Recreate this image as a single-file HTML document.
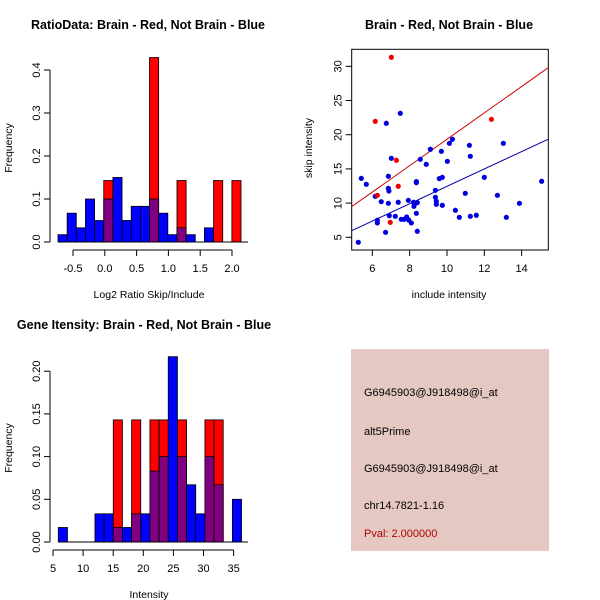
<!DOCTYPE html>
<html><head><meta charset="utf-8"><style>
body{margin:0;background:#fff;}
svg{display:block;font-family:"Liberation Sans",sans-serif;}
</style></head><body>
<svg id="chart" width="600" height="600" viewBox="0 0 600 600" xmlns="http://www.w3.org/2000/svg">
<rect width="600" height="600" fill="#fff"/>
<text x="148" y="29" font-size="12.5" font-weight="bold" text-anchor="middle">RatioData: Brain - Red, Not Brain - Blue</text>
<text x="449" y="29" font-size="12.5" font-weight="bold" text-anchor="middle">Brain - Red, Not Brain - Blue</text>
<text x="144" y="329" font-size="12.5" font-weight="bold" text-anchor="middle">Gene Itensity: Brain - Red, Not Brain - Blue</text>
<g id="p1"></g>
<g id="p2"></g>
<g id="p3"></g>
<g>
<rect x="351" y="349" width="198" height="202" fill="#e6c8c2"/>
<text x="364" y="396" font-size="11">G6945903@J918498@i_at</text>
<text x="364" y="435" font-size="11">alt5Prime</text>
<text x="364" y="472" font-size="11">G6945903@J918498@i_at</text>
<text x="364" y="509" font-size="11">chr14.7821-1.16</text>
<text x="364" y="537" font-size="11" fill="#b00000">Pval: 2.000000</text>
</g>
</svg>
<script>
// Ratio histogram data
const ratioBinStart = -0.736, ratioBinWidth = 0.1439;
const ratioBlue = [0.017,0.067,0.033,0.1,0.05,0.1,0.15,0.05,0.083,0.083,0.1,0.067,0.017,0.033,0.017,0,0.033,0,0,0];
const ratioRed  = [0,0,0,0,0,0.143,0,0,0,0,0.429,0,0,0.143,0,0,0,0.143,0,0.143];
const ratioXTicks = [-0.5,0.0,0.5,1.0,1.5,2.0];
const ratioXLabels = ["-0.5","0.0","0.5","1.0","1.5","2.0"];
const ratioYTicks = [0,0.1,0.2,0.3,0.4];
const ratioYLabels = ["0.0","0.1","0.2","0.3","0.4"];
// Intensity histogram data
const intBinStart = 5.88, intBinWidth = 1.522;
const intBlue = [0.017,0,0,0,0.033,0.033,0.017,0.017,0.033,0.033,0.083,0.1,0.217,0.1,0.067,0.033,0.1,0.067,0,0.05];
const intRed  = [0,0,0,0,0,0,0.143,0,0.143,0,0.143,0.143,0,0.143,0,0,0.143,0.143,0,0];
const intXTicks = [5,10,15,20,25,30,35];
const intXLabels = ["5","10","15","20","25","30","35"];
const intYTicks = [0,0.05,0.1,0.15,0.2];
const intYLabels = ["0.00","0.05","0.10","0.15","0.20"];
// Scatter data
const blueX = [5.25,5.41,5.68,6.16,6.27,6.27,6.48,6.71,6.75,6.86,6.86,6.86,6.89,6.91,7.02,7.23,7.39,7.50,7.55,7.70,7.84,7.95,8.09,7.93,8.21,8.23,8.29,8.36,8.36,8.36,8.41,8.41,8.57,8.89,9.11,9.38,9.38,9.43,9.43,9.59,9.70,9.75,9.75,10.02,10.13,10.29,10.45,10.66,10.98,11.20,11.25,11.25,11.57,12.00,12.70,13.02,13.18,13.88,15.07];
const blueY = [4.27,13.62,12.75,10.99,7.49,7.10,10.21,5.73,21.67,13.92,12.16,9.97,11.77,8.17,16.55,8.07,10.12,23.13,7.63,7.63,7.97,7.53,7.10,10.41,10.12,9.53,9.97,8.51,13.14,12.99,5.88,10.07,16.40,15.67,17.87,11.87,10.85,10.26,9.82,13.58,17.57,13.77,9.68,16.11,18.74,19.33,8.95,7.92,11.43,18.45,16.84,8.07,8.22,13.77,11.14,18.74,7.92,9.97,13.19];
const redX = [6.16,6.27,7.02,6.96,7.29,7.39,12.38];
const redY = [21.96,11.14,31.32,7.19,16.26,12.46,22.25];
const redFit = [0.03,1.93];   // intercept, slope
const blueFit = [-0.25,1.27];
const scXTicks = [6,8,10,12,14];
const scYTicks = [5,10,15,20,25,30];

const NS="http://www.w3.org/2000/svg";
function mk(parent,tag,attrs,text){const e=document.createElementNS(NS,tag);for(const k in attrs)e.setAttribute(k,attrs[k]);if(text!==undefined)e.textContent=text;parent.appendChild(e);return e;}

function hist(g,o){
  const sx=v=>o.x0+(v-o.d0)*o.kx, sy=v=>o.y0-v*o.ky;
  for(let i=0;i<o.blue.length;i++){
    const a=o.binStart+i*o.binW, b=a+o.binW, x1=sx(a), w=sx(b)-x1;
    const bv=o.blue[i], rv=o.red[i], m=Math.min(bv,rv), mx=Math.max(bv,rv);
    if(mx<=0) continue;
    const col = rv>bv? "#ff0000":"#0000ff";
    const r=mk(g,'rect',{x:x1,y:sy(mx),width:w,height:sy(0)-sy(mx),fill:col,stroke:"#000","stroke-width":0.8});
    
    
    if(m>0){
      const p=mk(g,'rect',{x:x1,y:sy(m),width:w,height:sy(0)-sy(m),fill:"#800080",stroke:"#000","stroke-width":0.8});
      
      
    }
  }
  mk(g,'line',{x1:sx(o.binStart),x2:o.baseEnd,y1:sy(0),y2:sy(0),stroke:"#000"});
  const ay=o.axisY;
  mk(g,'line',{x1:sx(o.xt[0]),x2:sx(o.xt[o.xt.length-1]),y1:ay,y2:ay,stroke:"#000"});
  o.xt.forEach((t,i)=>{mk(g,'line',{x1:sx(t),x2:sx(t),y1:ay,y2:ay+6,stroke:"#000"});
    const tx=mk(g,'text',{x:sx(t),y:ay+22,"font-size":11,"text-anchor":"middle"},o.xl[i]);
    
    });
  const ax=o.axisX;
  mk(g,'line',{x1:ax,x2:ax,y1:sy(o.yt[0]),y2:sy(o.yt[o.yt.length-1]),stroke:"#000"});
  o.yt.forEach((t,i)=>{mk(g,'line',{x1:ax,x2:ax-6,y1:sy(t),y2:sy(t),stroke:"#000"});
    const tx=mk(g,'text',{x:ax-10,y:sy(t),"font-size":11,"text-anchor":"middle",transform:`rotate(-90 ${ax-10} ${sy(t)})`},o.yl[i]);
    
    });
  const xt=mk(g,'text',{x:o.xlabX,y:o.xlabY,"font-size":10.5,"text-anchor":"middle"},o.xlab);
  
  
  const yt=mk(g,'text',{x:12,y:o.ylabY,"font-size":10.5,"text-anchor":"middle",transform:`rotate(-90 12 ${o.ylabY})`},"Frequency");
  
  
}

hist(document.getElementById('p1'),{x0:73,d0:-0.5,kx:63.6,y0:242,ky:430,binStart:ratioBinStart,binW:ratioBinWidth,
  blue:ratioBlue,red:ratioRed,baseEnd:248,axisY:250,axisX:50,xt:ratioXTicks,xl:ratioXLabels,yt:ratioYTicks,yl:ratioYLabels,
  xlab:"Log2 Ratio Skip/Include",xlabX:149,xlabY:298,ylabY:148});
hist(document.getElementById('p3'),{x0:53,d0:5,kx:6.02,y0:542,ky:854,binStart:intBinStart,binW:intBinWidth,
  blue:intBlue,red:intRed,baseEnd:248,axisY:550,axisX:50,xt:intXTicks,xl:intXLabels,yt:intYTicks,yl:intYLabels,
  xlab:"Intensity",xlabX:149,xlabY:598,ylabY:448});

(function(){
  const g=document.getElementById('p2');
  const L=351.7,R=548.3,T=49.3,B=250;
  const sx=v=>372.3+(v-6)*18.67, sy=v=>237.3-(v-5)*6.84;
  const xmin=(L-372.3)/18.67+6, xmax=(R-372.3)/18.67+6;
  mk(g,'rect',{x:L,y:T,width:R-L,height:B-T,fill:"none",stroke:"#000"});
  scXTicks.forEach(t=>{mk(g,'line',{x1:sx(t),x2:sx(t),y1:B,y2:B+6,stroke:"#000"});
    const tx=mk(g,'text',{x:sx(t),y:B+22,"font-size":11,"text-anchor":"middle"},String(t));
    
    });
  scYTicks.forEach(t=>{mk(g,'line',{x1:L,x2:L-6,y1:sy(t),y2:sy(t),stroke:"#000"});
    const tx=mk(g,'text',{x:L-10,y:sy(t),"font-size":11,"text-anchor":"middle",transform:`rotate(-90 ${L-10} ${sy(t)})`},String(t));
    
    });
  const cp=mk(g,'clipPath',{id:'scclip'});mk(cp,'rect',{x:L,y:T,width:R-L,height:B-T});
  const lg=mk(g,'g',{'clip-path':'url(#scclip)'});
  [[redFit,"#cc0000",'red-fit-line'],[blueFit,"#0000aa",'blue-fit-line']].forEach(([f,c,n])=>{
    const l=mk(lg,'line',{x1:sx(xmin),y1:sy(f[0]+f[1]*xmin),x2:sx(xmax),y2:sy(f[0]+f[1]*xmax),stroke:c,"stroke-width":1});
    
    
  });
  blueX.forEach((x,i)=>{const c=mk(g,'circle',{cx:sx(x),cy:sy(blueY[i]),r:2.6,fill:"#0000dd"});
    
    });
  redX.forEach((x,i)=>{const c=mk(g,'circle',{cx:sx(x),cy:sy(redY[i]),r:2.6,fill:"#ee0000"});
    
    });
  const xt=mk(g,'text',{x:449,y:298,"font-size":10.5,"text-anchor":"middle"},"include intensity");
  
  
  const yt=mk(g,'text',{x:312,y:148,"font-size":10.5,"text-anchor":"middle",transform:"rotate(-90 312 148)"},"skip intensity");
  
  
})();
</script>
</body></html>
